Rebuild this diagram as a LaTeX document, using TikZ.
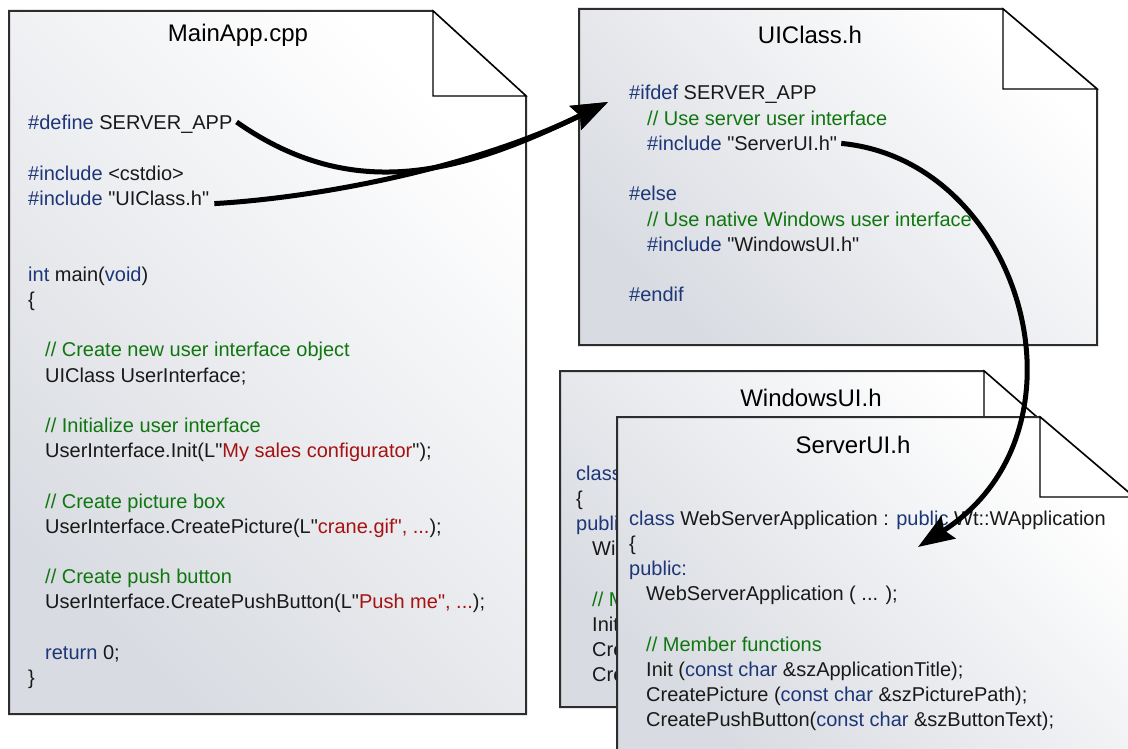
\documentclass[tikz,border=0pt]{standalone}
\usepackage{fontspec}
\setmainfont[Ligatures=TeXOff]{Liberation Sans}
\usetikzlibrary{arrows.meta,calc}

\definecolor{kwblue}{RGB}{28,54,120}
\definecolor{cmtgreen}{RGB}{16,118,16}
\definecolor{strred}{RGB}{165,18,18}
\definecolor{plain}{RGB}{25,25,25}
\definecolor{edge}{RGB}{45,45,45}
\definecolor{sheetlow}{RGB}{216,219,225}

\newcommand\kw[1]{\textcolor{kwblue}{#1}}
\newcommand\cmt[1]{\textcolor{cmtgreen}{#1}}
\newcommand\strg[1]{\textcolor{strred}{#1}}
\newcommand\codefont{\fontsize{20}{25}\selectfont}
\newcommand\titlefont{\fontsize{24}{29}\selectfont}

% a sheet of paper with a dog-ear: left, top, right, bottom, ear corner x, fold y
\newcommand\docsheet[6]{%
  \path[sheet] (#1,#2) -- (#5,#2) -- (#3,#6) -- (#3,#4) -- (#1,#4) -- cycle;
  \filldraw[flap] (#5,#2) -- (#5,#6) -- (#3,#6) -- cycle;
}

\tikzset{
  sheet/.style={draw=edge, line width=2pt, line join=miter,
    top color=white, middle color=white, bottom color=sheetlow,
    shading angle=-45},
  flap/.style={fill=white, draw=black, line width=1.3pt},
  code/.style={anchor=base west, inner sep=0pt, font=\codefont, text=plain},
  title/.style={anchor=base, inner sep=0pt, font=\titlefont, text=black},
  link/.style={line width=5pt, draw=black,
    -{Stealth[length=36pt,width=26pt,inset=5pt]}},
}

\begin{document}
\begin{tikzpicture}[x=1pt,y=-1pt]
\clip (0,0) rectangle (1128,749);
\fill[white] (0,0) rectangle (1128,749);

% ---------------- MainApp.cpp
\docsheet{9}{11}{526}{714}{433}{96}
\node[title] (mainT) at (238,42) {MainApp.cpp};
\node[code] (m0)  at (28,130)   {\kw{\#define} SERVER\_APP};
\node[code] (m2)  at (28,180.4) {\kw{\#include} <cstdio>};
\node[code] (m3)  at (28,205.6) {\kw{\#include} "UIClass.h"};
\node[code] (m6)  at (28,281.2) {\kw{int} main(\kw{void})};
\node[code] (m7)  at (28,306.4) {\{};
\node[code] (m9)  at (45,356.8) {\cmt{// Create new user interface object}};
\node[code] (m10) at (45,382)   {UIClass UserInterface;};
\node[code] (m12) at (45,432.4) {\cmt{// Initialize user interface}};
\node[code] (m13) at (45,457.6) {UserInterface.Init(L"\strg{My sales configurator}");};
\node[code] (m15) at (45,508)   {\cmt{// Create picture box}};
\node[code] (m16) at (45,533.2) {UserInterface.CreatePicture(L"\strg{crane.gif", ...});};
\node[code] (m18) at (45,583.6) {\cmt{// Create push button}};
\node[code] (m19) at (45,608.8) {UserInterface.CreatePushButton(L"\strg{Push me", ...});};
\node[code] (m21) at (45,659.2) {\kw{return} 0;};
\node[code] (m22) at (28,684.4) {\}};

% ---------------- UIClass.h
\docsheet{579}{9}{1097}{345}{1003}{89}
\node[title] (uiT) at (810,44) {UIClass.h};
\node[code] (u0) at (629,100)   {\kw{\#ifdef} SERVER\_APP};
\node[code] (u1) at (647,125.2) {\cmt{// Use server user interface}};
\node[code] (u2) at (647,150.4) {\kw{\#include} "ServerUI.h"};
\node[code] (u4) at (629,200.8) {\kw{\#else}};
\node[code] (u5) at (647,226)   {\cmt{// Use native Windows user interface}};
\node[code] (u6) at (647,251.2) {\kw{\#include} "WindowsUI.h"};
\node[code] (u8) at (629,301.6) {\kw{\#endif}};

% ---------------- WindowsUI.h (mostly under ServerUI.h, only line starts show)
\docsheet{560}{371}{1078}{707}{984}{453}
\node[title] (winT) at (811,406) {WindowsUI.h};
\node[code] (w0) at (576,480)   {\kw{class}};
\node[code] (w1) at (576,505.2) {\{};
\node[code] (w2) at (576,530.4) {\kw{public}};
\node[code] (w3) at (592,555.6) {Win};
\node[code] (w5) at (592,606)   {\cmt{// Me}};
\node[code] (w6) at (592,631.2) {Init};
\node[code] (w7) at (592,656.4) {Cre};
\node[code] (w8) at (592,681.6) {Cre};

% ---------------- ServerUI.h
\docsheet{617}{417}{1134}{760}{1040}{497}
\node[title] (srvT) at (853,453) {ServerUI.h};
\node[code] (s0) at (629,525)   {\kw{class} WebServerApplication : \kw{public} Wt::WApplication};
\node[code] (s1) at (629,550.2) {\{};
\node[code] (s2) at (629,575.4) {\kw{public:}};
\node[code] (s3) at (646,600.6) {WebServerApplication ( ... );};
\node[code] (s5) at (646,651)   {\cmt{// Member functions}};
\node[code] (s6) at (646,676.2) {Init (\kw{const char} \&szApplicationTitle);};
\node[code] (s7) at (646,701.4) {CreatePicture (\kw{const char} \&szPicturePath);};
\node[code] (s8) at (646,726.6) {CreatePushButton(\kw{const char} \&szButtonText);};

% ---------------- include / define links
\coordinate (defOut) at ($(m0.base east)+(4,-8)$);
\coordinate (incOut) at ($(m3.base east)+(5,-2)$);
\coordinate (srvOut) at ($(u2.base east)+(4,-7)$);
\coordinate (uiIn)   at ($(uiT.base)+(-202,58)$);
\coordinate (srvIn)  at ($(srvT.base)+(65,94)$);

\draw[link] (defOut) .. controls ($(defOut)+(118,83)$) and ($(uiIn)+(-144,70)$) .. (uiIn);
\draw[link] (incOut) .. controls ($(incOut)+(105,-6)$) and ($(uiIn)+(-135,66)$) .. (uiIn);
\draw[link] (srvOut) .. controls ($(srvOut)+(180,17)$) and ($(srvIn)+(182,-117)$) .. (srvIn);
\end{tikzpicture}
\end{document}
